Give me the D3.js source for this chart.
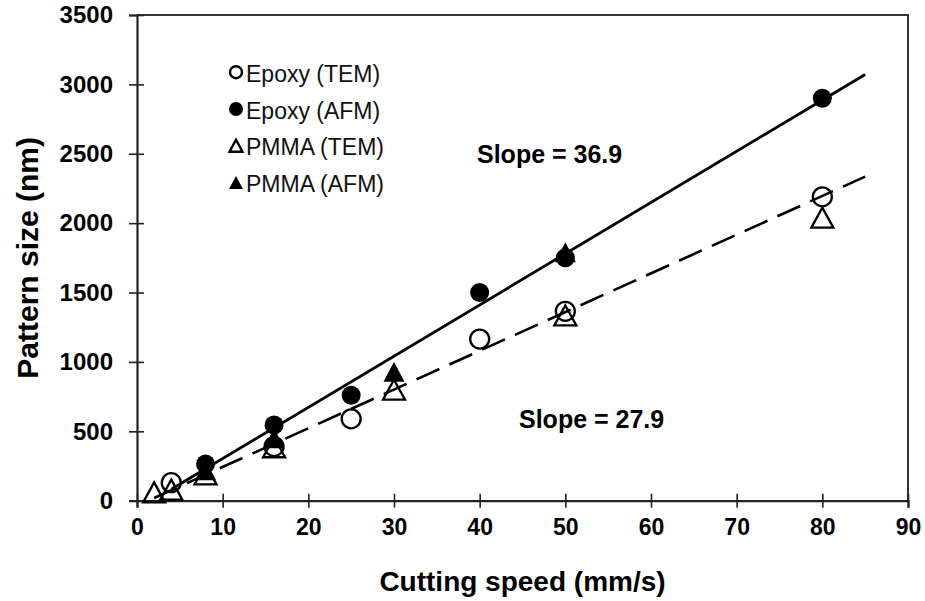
<!DOCTYPE html>
<html>
<head>
<meta charset="utf-8">
<script src="https://cdn.jsdelivr.net/npm/d3@7"></script>
<style>
  html, body { margin: 0; padding: 0; background: #fff; }
  svg { display: block; font-family: "Liberation Sans", Arial, sans-serif; }
</style>
</head>
<body>
<svg id="chart" width="925" height="601"></svg>
<script>
// Cutting speed (mm/s) and measured pattern size (nm) for each material / method
const epoxyTemX = [4, 16, 25, 40, 50, 80];
const epoxyTemY = [130, 390, 590, 1165, 1365, 2190];
const epoxyAfmX = [8, 16, 25, 40, 50, 80];
const epoxyAfmY = [265, 545, 760, 1500, 1750, 2900];
const pmmaTemX = [2, 4, 8, 16, 30, 50, 80];
const pmmaTemY = [60, 80, 190, 385, 800, 1335, 2040];
const pmmaAfmX = [8, 16, 30, 50];
const pmmaAfmY = [220, 450, 930, 1790];

// Linear fits: slope, intercept, x range
const fitAfmSlope = 36.9, fitAfmIntercept = -65, fitAfmRange = [4, 85];
const fitTemSlope = 27.9, fitTemIntercept = -36, fitTemRange = [2, 85];

const xTicks = [0, 10, 20, 30, 40, 50, 60, 70, 80, 90];
const yTicks = [0, 500, 1000, 1500, 2000, 2500, 3000, 3500];

const legendLabels = ["Epoxy (TEM)", "Epoxy (AFM)", "PMMA (TEM)", "PMMA (AFM)"];

const svg = d3.select("#chart");
const plot = { left: 137, right: 908, top: 15, bottom: 500.7 };

const x = d3.scaleLinear().domain([0, 90]).range([plot.left, plot.right]);
const y = d3.scaleLinear().domain([0, 3500]).range([plot.bottom, plot.top]);

const axisColor = "#222";

// frame (top and right edges)
svg.append("path")
  .attr("d", `M${plot.left},${plot.top}H${plot.right}V${plot.bottom}`)
  .attr("fill", "none").attr("stroke", "#333").attr("stroke-width", 2);

// x axis with crossing ticks
const gx = svg.append("g")
  .attr("transform", `translate(0,${plot.bottom})`)
  .call(d3.axisBottom(x).tickValues(xTicks).tickSize(7).tickPadding(11).tickFormat(d3.format("d")));
gx.selectAll(".tick line").attr("y1", -7).attr("stroke", axisColor).attr("stroke-width", 1.6);
gx.select(".domain").attr("stroke", axisColor).attr("stroke-width", 2.2);
gx.selectAll(".tick text")
  .attr("font-size", 23).attr("font-weight", "bold").attr("fill", "#000")
  .attr("font-family", "Liberation Sans, Arial, sans-serif");

// y axis with crossing ticks
const gy = svg.append("g")
  .attr("transform", `translate(${plot.left},0)`)
  .call(d3.axisLeft(y).tickValues(yTicks).tickSize(8).tickPadding(16).tickFormat(d3.format("d")));
gy.selectAll(".tick line").attr("x1", 7).attr("stroke", axisColor).attr("stroke-width", 1.6);
gy.select(".domain").attr("stroke", axisColor).attr("stroke-width", 2.2);
gy.selectAll(".tick text")
  .attr("font-size", 24).attr("font-weight", "bold").attr("fill", "#000")
  .attr("font-family", "Liberation Sans, Arial, sans-serif");

// axis titles
svg.append("text")
  .attr("x", (plot.left + plot.right) / 2).attr("y", 591)
  .attr("text-anchor", "middle").attr("font-size", 28).attr("font-weight", "bold")
  .text("Cutting speed (mm/s)");
svg.append("text")
  .attr("transform", `translate(38,${(plot.top + plot.bottom) / 2}) rotate(-90)`)
  .attr("text-anchor", "middle").attr("font-size", 30).attr("font-weight", "bold")
  .text("Pattern size (nm)");

// triangle centred on its bounding box
function triPath(w, h) {
  return `M0,${-h / 2}L${w / 2},${h / 2}L${-w / 2},${h / 2}Z`;
}
const zip = (xs, ys) => xs.map((v, i) => [v, ys[i]]);

const marks = svg.append("g");

// open markers (TEM)
marks.append("g").selectAll("circle").data(zip(epoxyTemX, epoxyTemY)).join("circle")
  .attr("cx", d => x(d[0])).attr("cy", d => y(d[1])).attr("r", 9.5)
  .attr("fill", "#fff").attr("stroke", "#000").attr("stroke-width", 2.3);
marks.append("g").selectAll("path").data(zip(pmmaTemX, pmmaTemY)).join("path")
  .attr("transform", d => `translate(${x(d[0])},${y(d[1])})`)
  .attr("d", triPath(22, 20))
  .attr("fill", "none").attr("stroke", "#000").attr("stroke-width", 2.3).attr("stroke-linejoin", "miter");

// filled markers (AFM)
marks.append("g").selectAll("circle").data(zip(epoxyAfmX, epoxyAfmY)).join("circle")
  .attr("cx", d => x(d[0])).attr("cy", d => y(d[1])).attr("r", 9.5)
  .attr("fill", "#000");
marks.append("g").selectAll("path").data(zip(pmmaAfmX, pmmaAfmY)).join("path")
  .attr("transform", d => `translate(${x(d[0])},${y(d[1])})`)
  .attr("d", triPath(21, 20))
  .attr("fill", "#000");

// fitted lines
function fitPoints(slope, intercept, range) {
  return range.map(v => [v, slope * v + intercept]);
}
const lineGen = d3.line().x(d => x(d[0])).y(d => y(d[1]));
svg.append("path")
  .attr("d", lineGen(fitPoints(fitAfmSlope, fitAfmIntercept, fitAfmRange)))
  .attr("fill", "none").attr("stroke", "#000").attr("stroke-width", 2.8);
svg.append("path")
  .attr("d", lineGen(fitPoints(fitTemSlope, fitTemIntercept, fitTemRange)))
  .attr("fill", "none").attr("stroke", "#000").attr("stroke-width", 2.6)
  .attr("stroke-dasharray", "25,11");

// slope annotations
svg.append("text").attr("x", 477).attr("y", 163)
  .attr("font-size", 25).attr("font-weight", "bold")
  .text(`Slope = ${fitAfmSlope}`);
svg.append("text").attr("x", 519).attr("y", 428)
  .attr("font-size", 25).attr("font-weight", "bold")
  .text(`Slope = ${fitTemSlope}`);

// legend
const legend = svg.append("g").attr("transform", "translate(236,0)");
const rowBase = [81.7, 118.5, 155.3, 192];
legendLabels.forEach((label, i) => {
  const cy = rowBase[i] - 9.5;
  if (i === 0) {
    legend.append("circle").attr("cx", 0).attr("cy", cy).attr("r", 6)
      .attr("fill", "#fff").attr("stroke", "#000").attr("stroke-width", 2.4);
  } else if (i === 1) {
    legend.append("circle").attr("cx", 0).attr("cy", cy).attr("r", 7).attr("fill", "#000");
  } else if (i === 2) {
    legend.append("path").attr("transform", `translate(0,${cy})`).attr("d", triPath(13, 12))
      .attr("fill", "none").attr("stroke", "#000").attr("stroke-width", 2.4);
  } else {
    legend.append("path").attr("transform", `translate(0,${cy})`).attr("d", triPath(14, 13))
      .attr("fill", "#000");
  }
  legend.append("text").attr("x", 10).attr("y", rowBase[i])
    .attr("font-size", 23).attr("fill", "#111").text(label);
});
</script>
</body>
</html>
